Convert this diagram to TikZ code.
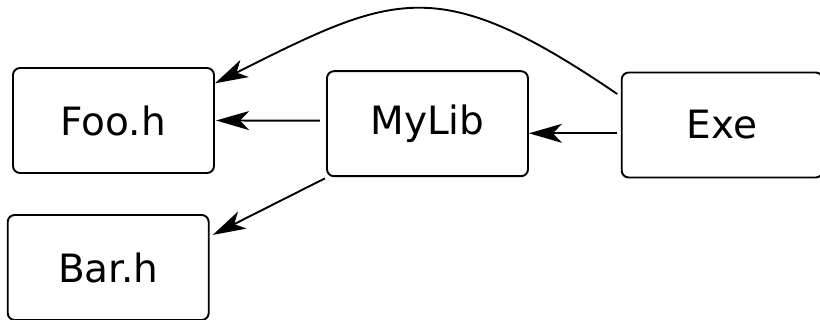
\documentclass[tikz,border=0pt]{standalone}
\usepackage{fontspec}
\setmainfont{DejaVu Sans}
\usetikzlibrary{arrows.meta}
\tikzset{
  module/.style={draw, line width=1.9pt, rounded corners=7pt,
    minimum width=201pt, minimum height=105pt, inner sep=0pt,
    font=\fontsize{39}{45}\selectfont},
  dep/.style={line width=1.9pt,
    -{Stealth[length=33pt,width=19pt,inset=9pt]}},
}
\begin{document}
\begin{tikzpicture}[x=1pt,y=-1pt]
\useasboundingbox (0,0) rectangle (820,320);

% build targets
\node[module] (foo)   at (113.5,120.5) {Foo.h};
\node[module] (mylib) at (427.5,123.7) {MyLib};
\node[module] (exe)   at (722.2,125)   {Exe};
\node[module] (bar)   at (108.2,267.5) {Bar.h};

% dependencies
\draw[dep] ([xshift=-3.5pt,yshift=-8.3pt]exe.west) -- ([yshift=-9.6pt]mylib.east);
\draw[dep] ([xshift=-6.1pt,yshift=3pt]mylib.west) -- ([xshift=1.1pt]foo.east);
\draw[dep] ([xshift=-1.1pt,yshift=-1.2pt]mylib.south west) -- ([xshift=3.1pt,yshift=-20.9pt]bar.north east);
\draw[dep] ([xshift=-3.5pt,yshift=31pt]exe.west)
  .. controls +(-180,-122.4) and +(180,-90) .. ([xshift=0.1pt,yshift=37.2pt]foo.east);
\end{tikzpicture}
\end{document}
